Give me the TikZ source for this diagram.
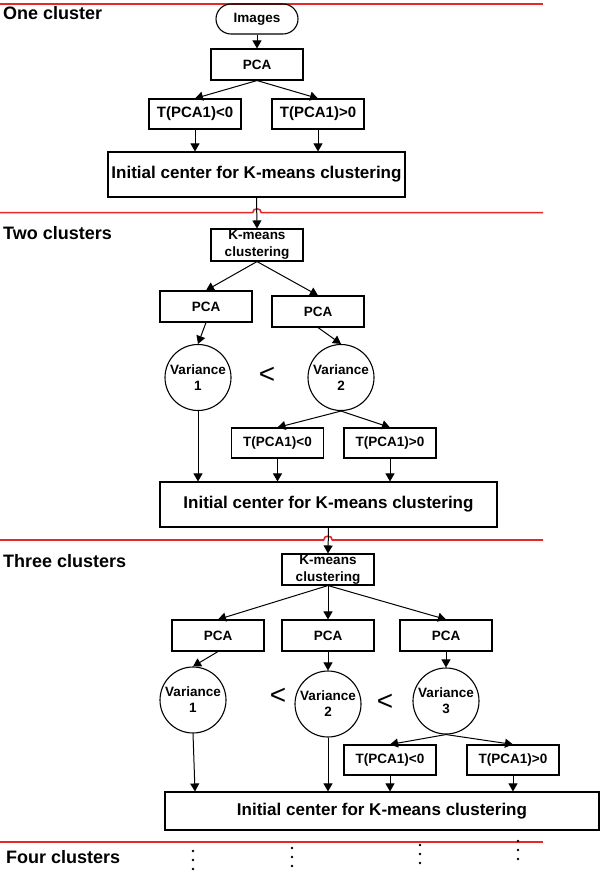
\documentclass[tikz,border=0pt]{standalone}
\usepackage{fontspec}
\setmainfont{Liberation Sans}
\usetikzlibrary{arrows.meta}
\definecolor{sepred}{RGB}{232,40,40}
\begin{document}
\begin{tikzpicture}[x=1pt,y=-1pt,
  box/.style={draw, line width=1.1pt, inner sep=0pt, align=center,
    font=\fontsize{13.5}{16.7}\selectfont\bfseries},
  tbox/.style={box, minimum width=92pt, minimum height=30pt},
  pbox/.style={box, minimum width=92pt, minimum height=31pt},
  bigbox/.style={box, font=\fontsize{17}{20}\selectfont\bfseries},
  var/.style={draw, circle, line width=1.1pt, minimum size=66pt, inner sep=0pt,
    align=center, font=\fontsize{13.5}{16}\selectfont\bfseries},
  arr/.style={-{Triangle[length=8pt,width=9pt]}, line width=1pt},
  sep/.style={draw=sepred, line width=1.6pt},
  sec/.style={anchor=base west, inner sep=0pt, font=\fontsize{18}{20}\selectfont\bfseries},
  lt/.style={inner sep=0pt, font=\fontsize{28}{28}\selectfont},
  dot/.style={fill=black, draw=none}
]
\useasboundingbox (0,0) rectangle (600,874);

% separators
\path[sep] (0,3.8) -- (543,3.8);
\path[sep] (0,212.7) -- (252.7,212.7) .. controls (252.7,207.5) and (261.3,207.5) .. (261.3,212.7) -- (543,212.7);
\path[sep] (0,540) -- (323.7,540) .. controls (323.7,534.8) and (332.3,534.8) .. (332.3,540) -- (543,540);
\path[sep] (0,842) -- (543,842);

% section labels
\node[sec] (lab1) at (3,20) {One cluster};
\node[sec] (lab2) at (3,239.5) {Two clusters};
\node[sec] (lab3) at (3,567) {Three clusters};
\node[sec] (lab4) at (6,863) {Four clusters};

% ---- One cluster
\node[box, minimum width=82pt, minimum height=30pt, rounded corners=15pt] (img) at (257,19) {Images};
\node[pbox] (pca0) at (257,64.5) {PCA};
\node[tbox, font=\fontsize{15}{18}\selectfont\bfseries] (t0a) at (195,114) {T(PCA1)<0};
\node[tbox, font=\fontsize{15}{18}\selectfont\bfseries] (t0b) at (318,114) {T(PCA1)>0};
\node[bigbox, minimum width=297pt, minimum height=45pt] (ic0) at (256.5,174.5) {Initial center for K-means clustering};

\draw[arr] (img.south) -- (pca0.north);
\draw[arr] (pca0.south) -- (t0a.north);
\draw[arr] (pca0.south) -- (t0b.north);
\draw[arr] (t0a.south) -- (t0a.south |- ic0.north);
\draw[arr] (t0b.south) -- (t0b.south |- ic0.north);

% ---- Two clusters
\node[box, minimum width=92pt, minimum height=32pt] (km1) at (257,245) {K-means\\clustering};
\node[pbox] (pca1a) at (206,306.5) {PCA};
\node[pbox] (pca1b) at (318,311.5) {PCA};
\node[var] (v1a) at (198,377.5) {Variance\\1};
\node[var] (v1b) at (341,377.5) {Variance\\2};
\node[lt] (lt1) at (267,375.5) {<};
\node[tbox] (t1a) at (277.5,443) {T(PCA1)<0};
\node[tbox] (t1b) at (390,443) {T(PCA1)>0};
\node[bigbox, minimum width=337pt, minimum height=45pt] (ic1) at (328.5,504.5) {Initial center for K-means clustering};

\draw[arr] (ic0.south) -- (km1.north);
\draw[arr] (km1.south) -- (pca1a.north);
\draw[arr] (km1.south) -- (pca1b.north);
\draw[arr] (pca1a.south) -- (v1a.north);
\draw[arr] (pca1b.south) -- (v1b.north);
\draw[arr] (v1b.south) -- (t1a.north);
\draw[arr] (v1b.south) -- (t1b.north);
\draw[arr] (t1a.south) -- (t1a.south |- ic1.north);
\draw[arr] (t1b.south) -- (t1b.south |- ic1.north);
\draw[arr] (v1a.south) -- (v1a.south |- ic1.north);

% ---- Three clusters
\node[pbox] (km2) at (328,569.5) {K-means\\clustering};
\node[pbox] (pca2a) at (218,635.5) {PCA};
\node[pbox] (pca2b) at (328,635.5) {PCA};
\node[pbox] (pca2c) at (446,635.5) {PCA};
\node[var] (v2a) at (193,700) {Variance\\1};
\node[var] (v2b) at (328,704) {Variance\\2};
\node[var] (v2c) at (446,701) {Variance\\3};
\node[lt] (lt2) at (278,696) {<};
\node[lt] (lt3) at (385,702) {<};
\node[tbox] (t2a) at (390,760) {T(PCA1)<0};
\node[tbox] (t2b) at (513,760) {T(PCA1)>0};
\node[bigbox, minimum width=434pt, minimum height=38pt] (ic2) at (382,811) {Initial center for K-means clustering};

\draw[arr] (ic1.south) -- (km2.north);
\draw[arr] (km2.south) -- (pca2a.north);
\draw[arr] (km2.south) -- (pca2b.north);
\draw[arr] (km2.south) -- (pca2c.north);
\draw[arr] (pca2a.south) -- (v2a.north);
\draw[arr] (pca2b.south) -- (v2b.north);
\draw[arr] (pca2c.south) -- (v2c.north);
\draw[arr] (v2c.south) -- (t2a.north);
\draw[arr] (v2c.south) -- (t2b.north);
\draw[arr] (t2a.south) -- (t2a.south |- ic2.north);
\draw[arr] (t2b.south) -- (t2b.south |- ic2.north);
\draw[arr] (v2a.south) -- ([xshift=2pt]v2a.south |- ic2.north);
\draw[arr] (v2b.south) -- (v2b.south |- ic2.north);

% ---- Four clusters: vertical dots
\foreach \x/\y in {193/851, 292/848, 420/845, 518/841}{
  \fill[dot] (\x,\y) circle (1.3);
  \fill[dot] (\x,\y+9) circle (1.3);
  \fill[dot] (\x,\y+18) circle (1.3);
}
\end{tikzpicture}
\end{document}
